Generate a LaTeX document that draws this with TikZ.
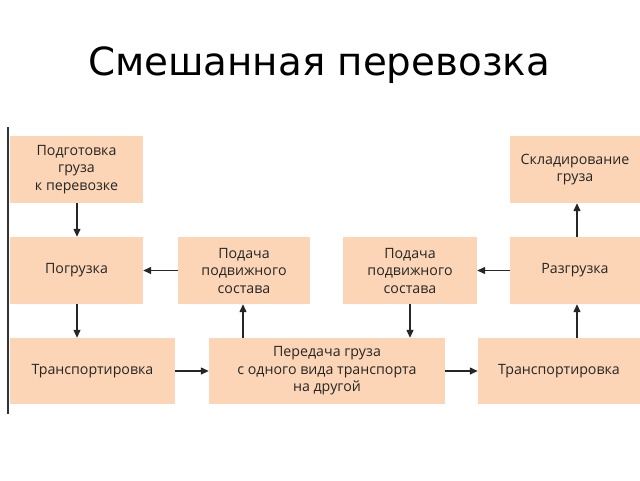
\documentclass[tikz,border=0pt]{standalone}
\usepackage{fontspec}
\setmainfont{Open Sans}
\newfontfamily\titlefont{DejaVu Sans}
\usetikzlibrary{arrows.meta}
\definecolor{boxfill}{HTML}{FBD5B6}
\definecolor{txt}{HTML}{262626}
\tikzset{
  blk/.style={fill=boxfill, draw=none, inner sep=0pt, text=txt, align=center,
    font=\fontsize{14.2}{17.5}\selectfont},
  arr/.style={-{Triangle[length=8pt,width=7pt]}, line width=1.3pt, draw=black!85}
}
\newcommand{\boxat}[6]{\path[fill=boxfill] (#1,#2) rectangle (#3,#4); \node[blk] (#5) at ({(#1+#3)/2},{(#2+#4)/2}) [minimum width={#3-#1}, minimum height={#4-#2}] {#6};}
\begin{document}
\begin{tikzpicture}[x=1pt,y=-1pt]
\useasboundingbox[fill=white] (0,0) rectangle (640,480);
\node[font=\titlefont\fontsize{38.8}{44}\selectfont, anchor=base] (title) at (319,75) {Смешанная перевозка};
\draw[line width=1.5pt, black!80] (8,127) -- (8,414);
\boxat{10}{136}{143}{203}{prep}{Подготовка\\груза\\к перевозке}
\boxat{10}{237}{143}{304}{load}{Погрузка}
\boxat{10}{338}{175}{404}{trL}{Транспортировка}
\boxat{178}{237}{310}{304}{podL}{Подача\\подвижного\\состава}
\boxat{209}{338}{445}{404}{trans}{Передача груза\\с одного вида транспорта\\на другой}
\boxat{343}{237}{477}{304}{podR}{Подача\\подвижного\\состава}
\boxat{510}{237}{640}{304}{unload}{Разгрузка}
\boxat{510}{136}{640}{203}{store}{Складирование\\груза}
\boxat{478}{338}{640}{404}{trR}{Транспортировка}
\draw[arr] (prep.south -| 77,0) -- (load.north -| 77,0);
\draw[arr] (load.south -| 77,0) -- (trL.north -| 77,0);
\draw[arr] (podL.west) -- (load.east);
\draw[arr] (trans.north -| 243,0) -- (podL.south -| 243,0);
\draw[arr] (trL.east) -- (trans.west);
\draw[arr] (podR.south -| 410,0) -- (trans.north -| 410,0);
\draw[arr] (trans.east) -- (trR.west);
\draw[arr] (trR.north -| 577,0) -- (unload.south -| 577,0);
\draw[arr] (unload.west) -- (podR.east);
\draw[arr] (unload.north -| 577,0) -- (store.south -| 577,0);
\end{tikzpicture}
\end{document}
